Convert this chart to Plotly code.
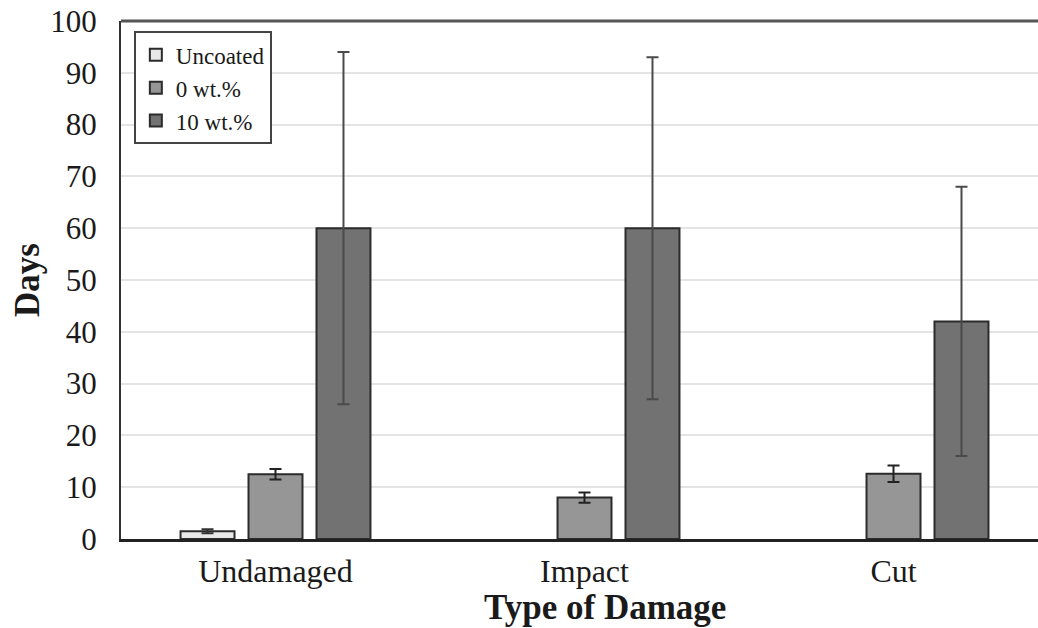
import plotly.graph_objects as go

categories = ["Undamaged", "Impact", "Cut"]
series_names = ["Uncoated", "0 wt.%", "10 wt.%"]
uncoated = [1.5, None, None]
uncoated_err = [0.4, None, None]
wt0 = [12.5, 8.0, 12.6]
wt0_err = [1.0, 1.0, 1.6]
wt10 = [60.0, 60.0, 42.0]
wt10_err = [34.0, 33.0, 26.0]
y_ticks = list(range(0, 101, 10))

fills = ["#e8e8e8", "#969696", "#727272"]
err_colors = ["#333333", "#222222", "#4a4a4a"]

FONT = "Liberation Serif"
fig = go.Figure()
for name, vals, errs, fc, ec, grp in zip(series_names, [uncoated, wt0, wt10],
                                         [uncoated_err, wt0_err, wt10_err],
                                         fills, err_colors, ["a", "b", "c"]):
    fig.add_trace(go.Bar(
        x=categories, y=vals, name=name, legendgroup=grp,
        marker=dict(color=fc, line=dict(color="#2b2b2b", width=2)),
        error_y=dict(type="data", array=errs, visible=True, color=ec,
                     thickness=2, width=6),
    ))

fig.update_layout(
    width=1038, height=628,
    margin=dict(l=121, r=0, t=21, b=89),
    paper_bgcolor="white", plot_bgcolor="white",
    barmode="group", bargap=0.34, bargroupgap=0.206,
    font=dict(family=FONT, color="#1a1a1a"),
    showlegend=True,
    legend=dict(
        x=0.014, y=0.98, xanchor="left", yanchor="top",
        bgcolor="white", bordercolor="#444444", borderwidth=2,
        font=dict(family=FONT, size=23, color="#1a1a1a"),
        tracegroupgap=9, traceorder="normal", itemwidth=30,
    ),
    xaxis=dict(
        range=[-0.5, 2.4676],
        showline=True, linecolor="#222222", linewidth=3,
        ticks="", tickfont=dict(family=FONT, size=32, color="#1a1a1a"),
        ticklabelstandoff=2,
        showgrid=False,
    ),
    yaxis=dict(
        range=[0, 100], tickvals=y_ticks,
        showline=True, linecolor="#333333", linewidth=2,
        ticks="", tickfont=dict(family=FONT, size=31, color="#1a1a1a"),
        ticklabelstandoff=16,
        showgrid=True, gridcolor="#e4e4e4", gridwidth=2,
        zeroline=False,
        title=dict(text="<b>Days</b>", standoff=0,
                   font=dict(family=FONT, size=35, color="#1a1a1a")),
    ),
    annotations=[dict(text="<b>Type of Damage</b>", xref="paper", yref="paper",
                      x=0.528, y=-0.132, xanchor="center", yanchor="middle",
                      showarrow=False,
                      font=dict(family=FONT, size=35, color="#1a1a1a"))],
    shapes=[dict(type="line", xref="paper", yref="paper", x0=0, x1=1, y0=1, y1=1,
                 line=dict(color="#555555", width=3))],
)

fig.write_html(
    "out.html",
    config={"displayModeBar": False},
    post_script="document.body.style.margin='0';document.body.style.overflow='hidden';"
                "Plotly.Plots.resize(document.getElementById('{plot_id}'));",
)
